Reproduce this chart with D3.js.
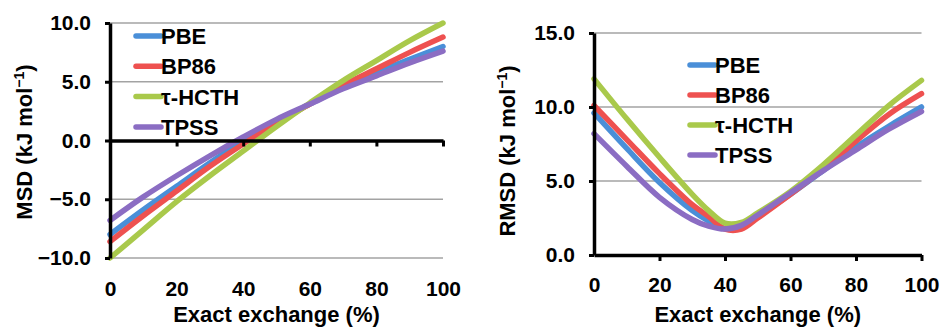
<!DOCTYPE html>
<html><head><meta charset="utf-8">
<script src="https://cdn.jsdelivr.net/npm/d3@7"></script>
<style>
html,body{margin:0;padding:0;background:#fff;}
svg{display:block;font-family:"Liberation Sans",Arial,sans-serif;font-weight:bold;}
</style></head>
<body><svg id="c" width="943" height="328"></svg>
<script>
const seriesNames = ["PBE", "BP86", "τ-HCTH", "TPSS"];
const colors = ["#4a8fd8", "#ee5150", "#a9c94b", "#8b6dc3"];

const msdX = [0, 10, 20, 30, 40, 50, 60, 70, 80, 90, 100];
const msdPBE  = [-8.0, -5.9, -3.9, -1.9, 0.0, 1.6, 3.1, 4.5, 5.8, 6.9, 8.0];
const msdBP86 = [-8.6, -6.4, -4.3, -2.2, -0.3, 1.5, 3.1, 4.7, 6.1, 7.5, 8.8];
const msdHCTH = [-10.0, -7.6, -5.2, -3.0, -0.9, 1.2, 3.2, 5.1, 6.8, 8.5, 10.0];
const msdTPSS = [-6.8, -4.8, -3.0, -1.3, 0.3, 1.8, 3.1, 4.4, 5.5, 6.6, 7.6];

const rmsdX = [0, 10, 20, 30, 35, 40, 45, 50, 60, 70, 80, 90, 100];
const rmsdPBE  = [9.6, 7.2, 4.9, 3.0, 2.3, 1.8, 1.9, 2.6, 4.1, 5.7, 7.3, 8.7, 10.0];
const rmsdBP86 = [10.1, 7.8, 5.5, 3.4, 2.6, 1.75, 1.75, 2.5, 4.1, 5.8, 7.7, 9.5, 10.9];
const rmsdHCTH = [11.9, 9.2, 6.6, 4.1, 3.0, 2.15, 2.2, 2.85, 4.3, 6.1, 8.1, 10.1, 11.8];
const rmsdTPSS = [8.2, 6.0, 3.9, 2.4, 1.95, 1.75, 2.0, 2.7, 4.2, 5.7, 7.1, 8.5, 9.7];

const xTicks = [0, 20, 40, 60, 80, 100];
const msdTicks = [-10, -5, 0, 5, 10];
const rmsdTicks = [0, 5, 10, 15];
const xTitle = "Exact exchange (%)";

const svg = d3.select("#c");

function panel(cfg) {
  const g = svg.append("g");
  const x = d3.scaleLinear().domain([0, 100]).range([cfg.x0, cfg.x1]);
  const y = d3.scaleLinear().domain(cfg.yDomain).range([cfg.yBottom, cfg.yTop]);

  // gridlines
  g.append("g").selectAll("line").data(cfg.yTicks.filter(v => v !== cfg.axisAt))
    .join("line")
    .attr("x1", cfg.x0).attr("x2", cfg.x1)
    .attr("y1", d => y(d)).attr("y2", d => y(d))
    .attr("stroke", "#a3a3a3").attr("stroke-width", 1.5);

  // series lines
  const line = d3.line().x(d => x(d[0])).y(d => y(d[1])).curve(d3.curveCatmullRom.alpha(0.5));
  cfg.series.forEach((s, i) => {
    g.append("path").datum(cfg.xs.map((xv, j) => [xv, s[j]]))
      .attr("d", line).attr("fill", "none")
      .attr("stroke", colors[i]).attr("stroke-width", 5.5)
      .attr("stroke-linecap", "round").attr("stroke-linejoin", "round");
  });

  // x axis line at axisAt with ticks
  const xa = g.append("g").attr("transform", `translate(0,${y(cfg.axisAt)})`)
    .call(d3.axisBottom(x).tickValues(xTicks.filter(v => v > 0)).tickSize(6).tickSizeOuter(0).tickFormat(""));
  xa.select(".domain").attr("stroke", "#000").attr("stroke-width", 3.5);
  xa.selectAll(".tick line").attr("stroke", "#000").attr("stroke-width", 3);

  // x tick labels
  const xl = g.append("g").attr("transform", `translate(0,${cfg.yBottom})`)
    .call(d3.axisBottom(x).tickValues(xTicks).tickSize(0).tickPadding(cfg.xLabelPad).tickFormat(d3.format("d")));
  xl.select(".domain").remove();
  xl.selectAll("text").attr("font-size", 21).attr("fill", "#000")
    .attr("font-family", "Liberation Sans, Arial, sans-serif").attr("font-weight", "bold");

  // y axis
  const ya = g.append("g").attr("transform", `translate(${cfg.x0},0)`)
    .call(d3.axisLeft(y).tickValues(cfg.yTicks).tickSize(5).tickSizeOuter(0).tickPadding(14).tickFormat(d3.format(".1f")));
  ya.select(".domain").attr("stroke", "#000").attr("stroke-width", 3.5);
  ya.selectAll(".tick line").attr("stroke", "#000").attr("stroke-width", 3);
  ya.selectAll("text").attr("font-size", 21).attr("fill", "#000")
    .attr("font-family", "Liberation Sans, Arial, sans-serif").attr("font-weight", "bold");

  // x title
  g.append("text").attr("x", (cfg.x0 + cfg.x1) / 2).attr("y", cfg.xTitleY)
    .attr("text-anchor", "middle").attr("font-size", 22).text(xTitle);

  // y title
  const yt = g.append("text")
    .attr("transform", `translate(${cfg.yTitleX},${cfg.yTitleY}) rotate(-90)`)
    .attr("text-anchor", "middle").attr("font-size", 22);
  yt.append("tspan").text(cfg.yTitle + " (kJ mol");
  yt.append("tspan").attr("font-size", 14).attr("dy", -8).text("−1");
  yt.append("tspan").attr("dy", 8).text(")");

  // legend
  const lg = g.append("g");
  seriesNames.forEach((n, i) => {
    const cy = cfg.legY + i * cfg.legStep;
    lg.append("line").attr("x1", cfg.legX).attr("x2", cfg.legX + 25)
      .attr("y1", cy).attr("y2", cy)
      .attr("stroke", colors[i]).attr("stroke-width", 5.5).attr("stroke-linecap", "round");
    lg.append("text").attr("x", cfg.legX + 25).attr("y", cy + 8)
      .attr("font-size", 22).attr("fill", "#000").text(n);
  });
}

panel({
  x0: 110, x1: 443, yTop: 23, yBottom: 258, yDomain: [-10, 10], yTicks: msdTicks, axisAt: 0,
  xs: msdX, series: [msdPBE, msdBP86, msdHCTH, msdTPSS],
  xLabelPad: 23, xTitleY: 322, yTitleX: 32, yTitleY: 142, yTitle: "MSD",
  legX: 136, legY: 36, legStep: 30.3
});

panel({
  x0: 594, x1: 921.5, yTop: 33, yBottom: 255, yDomain: [0, 15], yTicks: rmsdTicks, axisAt: 0,
  xs: rmsdX, series: [rmsdPBE, rmsdBP86, rmsdHCTH, rmsdTPSS],
  xLabelPad: 22, xTitleY: 322, yTitleX: 515, yTitleY: 151, yTitle: "RMSD",
  legX: 690, legY: 65, legStep: 30
});
</script>
</body></html>
